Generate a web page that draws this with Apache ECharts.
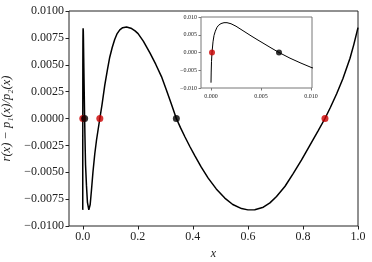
<!DOCTYPE html>
<html><head><meta charset="utf-8">
<script src="https://cdn.jsdelivr.net/npm/echarts@6/dist/echarts.min.js"></script>
<style>html,body{margin:0;padding:0;background:#fff}#c{width:372px;height:262px}</style>
</head><body><div id="c"></div>
<script>
// curve samples: x and error value (r(x) - p1(x)/p2(x))
var xs = [0, 0.00002, 0.00005, 0.0001, 0.0002, 0.0003, 0.00043, 0.0006, 0.00077, 0.001, 0.0013, 0.0016, 0.002, 0.0025, 0.003, 0.0035, 0.004, 0.0046, 0.0052, 0.006, 0.0068, 0.0079, 0.009, 0.0101,
  0.0134, 0.017, 0.022, 0.027, 0.0315, 0.037, 0.0436, 0.05, 0.062, 0.07, 0.08, 0.09, 0.098, 0.107, 0.116, 0.125, 0.1345, 0.145, 0.159, 0.175, 0.19, 0.201, 0.22, 0.244, 0.265, 0.286, 0.3045, 0.3225, 0.34,
  0.355, 0.371, 0.39, 0.407, 0.43, 0.4557, 0.485, 0.516, 0.545, 0.577, 0.6, 0.625, 0.656, 0.68, 0.704, 0.735, 0.765, 0.795, 0.825, 0.855, 0.88, 0.9, 0.9225, 0.945, 0.971, 0.985, 1.0];
var ys = [-0.0085, -0.0055, -0.0025, 0.0, 0.0030, 0.0048, 0.0060, 0.0071, 0.0077, 0.00815, 0.0084, 0.0084, 0.0081, 0.0074, 0.0065, 0.0056, 0.0047, 0.00366, 0.00265, 0.0013, 0.0, -0.0016, -0.0030, -0.0043,
  -0.0062, -0.0078, -0.0085, -0.0080, -0.0067, -0.0050, -0.0033, -0.0020, 0.0, 0.0013, 0.0031, 0.0046, 0.0057, 0.0066, 0.00735, 0.0079, 0.00825, 0.00845, 0.00852, 0.0084, 0.00815, 0.0079, 0.0072, 0.0061, 0.00505, 0.0039, 0.0026, 0.0013, 0.0,
  -0.00085, -0.0017, -0.00265, -0.00345, -0.0045, -0.00555, -0.00655, -0.0074, -0.0080, -0.00838, -0.0085, -0.00848, -0.00825, -0.00785, -0.00725, -0.0063, -0.0051, -0.00385, -0.0025, -0.00115, 0.0, 0.00105, 0.0023, 0.0037, 0.0056, 0.0069, 0.00845];
// zeros
var redX = [0.0001, 0.062, 0.88];
var blackX = [0.0068, 0.34];
var mainXTicks = [0, 0.2, 0.4, 0.6, 0.8, 1.0];
var insetXTicks = [0, 0.005, 0.01];

var FONT = '"Liberation Serif", "DejaVu Serif", serif';
function fmt(v, d) { var s = Math.abs(v).toFixed(d); return (v < -1e-12 ? '\u2212' : '') + s; }
var curve = xs.map(function (x, i) { return [x, ys[i]]; });
var insetCurve = curve.filter(function (p) { return p[0] <= 0.0135; });
var red = redX.map(function (x) { return [x, 0]; });
var black = blackX.map(function (x) { return [x, 0]; });

var chart = echarts.init(document.getElementById('c'), null, { renderer: 'canvas' });
chart.setOption({
  animation: false,
  backgroundColor: '#fff',
  grid: [
    { left: 69, right: 14, top: 11, bottom: 36, show: true, borderColor: '#222', borderWidth: 1, backgroundColor: 'transparent', outerBoundsMode: 'none', containLabel: false },
    { left: 201, width: 111, top: 17, height: 71, show: true, borderColor: '#777', borderWidth: 1, backgroundColor: '#fff', z: 5, outerBoundsMode: 'none', containLabel: false }
  ],
  xAxis: [
    { gridIndex: 0, type: 'value', min: -0.05, max: 1.0,
      name: 'x', nameLocation: 'middle', nameGap: 21,
      nameTextStyle: { fontFamily: FONT, fontStyle: 'italic', fontSize: 12, color: '#222' },
      axisLine: { show: false, onZero: false }, splitLine: { show: false },
      axisTick: { show: true, length: 3.5, inside: false, customValues: mainXTicks, lineStyle: { color: '#222' } },
      axisLabel: { customValues: mainXTicks, margin: 5, fontFamily: FONT, fontSize: 12, color: '#222', formatter: function (v) { return fmt(v, 1); } } },
    { gridIndex: 1, type: 'value', min: -0.001, max: 0.0101, z: 6,
      axisLine: { show: false, onZero: false }, splitLine: { show: false },
      axisTick: { show: true, length: 2.5, customValues: insetXTicks, lineStyle: { color: '#777' } },
      axisLabel: { customValues: insetXTicks, margin: 5, fontFamily: FONT, fontSize: 6, color: '#222', formatter: function (v) { return fmt(v, 3); } } }
  ],
  yAxis: [
    { gridIndex: 0, type: 'value', min: -0.01, max: 0.01, interval: 0.0025,
      name: 'r(x) \u2212 p\u2081(x)/p\u2082(x)', nameLocation: 'middle', nameGap: 46, nameRotate: 90,
      nameTextStyle: { fontFamily: FONT, fontStyle: 'italic', fontSize: 12.5, color: '#222' },
      axisLine: { show: false, onZero: false }, splitLine: { show: false },
      axisTick: { show: true, length: 3.5, lineStyle: { color: '#222' } },
      axisLabel: { margin: 5, fontFamily: FONT, fontSize: 12, color: '#222', formatter: function (v) { return fmt(v, 4); } } },
    { gridIndex: 1, type: 'value', min: -0.01, max: 0.01, interval: 0.005, z: 6,
      axisLine: { show: false, onZero: false }, splitLine: { show: false },
      axisTick: { show: true, length: 2.5, lineStyle: { color: '#777' } },
      axisLabel: { margin: 4, fontFamily: FONT, fontSize: 6, color: '#222', formatter: function (v) { return fmt(v, 3); } } }
  ],
  series: [
    { type: 'line', xAxisIndex: 0, yAxisIndex: 0, data: curve, showSymbol: false, clip: true,
      lineStyle: { color: '#000', width: 1.5 }, z: 2 },
    { type: 'scatter', xAxisIndex: 0, yAxisIndex: 0, data: red, symbolSize: 7, itemStyle: { color: '#cc0000' }, z: 3 },
    { type: 'scatter', xAxisIndex: 0, yAxisIndex: 0, data: black, symbolSize: 7, itemStyle: { color: '#000' }, z: 4 },
    { type: 'line', xAxisIndex: 1, yAxisIndex: 1, data: insetCurve, showSymbol: false, clip: true,
      lineStyle: { color: '#000', width: 1 }, z: 7 },
    { type: 'scatter', xAxisIndex: 1, yAxisIndex: 1, data: red, symbolSize: 6, itemStyle: { color: '#cc0000' }, z: 8 },
    { type: 'scatter', xAxisIndex: 1, yAxisIndex: 1, data: black, symbolSize: 6, itemStyle: { color: '#000' }, z: 9 }
  ]
});
</script></body></html>
